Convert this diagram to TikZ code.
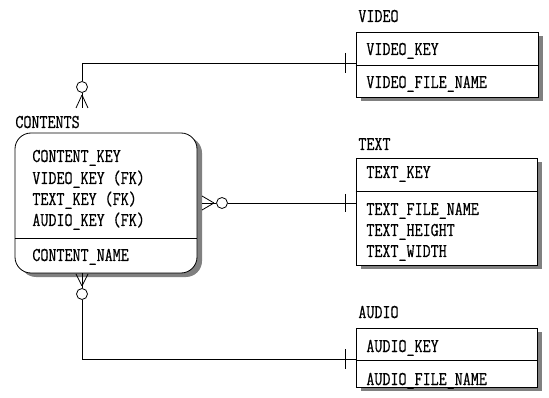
\documentclass[tikz,border=0pt]{standalone}
\usepackage{fontspec}
\setmonofont{Latin Modern Mono}[FakeStretch=0.8, FakeBold=0.6]
\usetikzlibrary{shadows}
\newcommand{\erfont}{\ttfamily\fontsize{19.5}{19.5}\selectfont}
\tikzset{
  entbox/.style={draw, fill=white, inner sep=0pt,
    drop shadow={shadow xshift=5pt, shadow yshift=-4pt, fill=black!50, opacity=1}},
  attr/.style={anchor=base west, inner sep=0pt, font=\erfont}
}

\begin{document}
\begin{tikzpicture}[x=1pt, y=-1pt, line width=0.8pt,
    rel/.style={draw, line width=0.8pt},
    card/.style={circle, draw, inner sep=0pt, minimum size=11pt}]
  \useasboundingbox (0,0) rectangle (549,398);
  % entities
  \node [entbox, rounded corners=16pt, minimum width=182pt, minimum height=140pt] (contents) at (106,203) {};
  \node [entbox, minimum width=182pt, minimum height=65pt] (video) at (447,64.5) {};
  \node [entbox, minimum width=181pt, minimum height=107pt] (text) at (446.5,211.5) {};
  \node [entbox, minimum width=181pt, minimum height=59pt] (audio) at (446.5,357.5) {};
  \draw (contents.west |- 0,238) -- (contents.east |- 0,238);
  \draw (video.west |- 0,65) -- (video.east |- 0,65);
  \draw (text.west |- 0,191) -- (text.east |- 0,191);
  \draw (audio.west |- 0,360) -- (audio.east |- 0,360);
  % titles
  \node [attr] (contentstitle) at (15,128) {CONTENTS};
  \node [attr] (videotitle) at (358,22) {VIDEO};
  \node [attr] (texttitle) at (358,150) {TEXT};
  \node [attr] (audiotitle) at (358,318) {AUDIO};
  % attributes
  \node [attr] (ckey) at (32,162) {CONTENT\_KEY};
  \node [attr] (cvkey) at (32,184) {VIDEO\_KEY (FK)};
  \node [attr] (ctkey) at (32,205) {TEXT\_KEY (FK)};
  \node [attr] (cakey) at (32,226) {AUDIO\_KEY (FK)};
  \node [attr] (cname) at (32,261) {CONTENT\_NAME};
  \node [attr] (vkey) at (366,55) {VIDEO\_KEY};
  \node [attr] (vfile) at (366,88) {VIDEO\_FILE\_NAME};
  \node [attr] (tkey) at (366,178) {TEXT\_KEY};
  \node [attr] (tfile) at (366,215) {TEXT\_FILE\_NAME};
  \node [attr] (theight) at (366,236) {TEXT\_HEIGHT};
  \node [attr] (twidth) at (366,257) {TEXT\_WIDTH};
  \node [attr] (akey) at (366,352) {AUDIO\_KEY};
  \node [attr] (afile) at (366,385) {AUDIO\_FILE\_NAME};
  % VIDEO -- CONTENTS
  \coordinate (vend) at (356,63);
  \coordinate (vbend) at (82,63);
  \node [card] (vc) at (82,87) {};
  \coordinate (vk) at (82,95);
  \draw [rel] (vend) -- (vbend) -- (vc);
  \draw [rel] (vc) -- ++(0,21);
  \draw [rel] (vk) -- ++(-6,13);
  \draw [rel] (vk) -- ++(6,13);
  \draw [rel] (vend) ++(-11,-10) -- ++(0,20);
  % TEXT -- CONTENTS
  \coordinate (tend) at (356,203);
  \node [card] (tc) at (222,203) {};
  \coordinate (tk) at (214,203);
  \draw [rel] (tend) -- (tc);
  \draw [rel] (tc) -- ++(-20,0);
  \draw [rel] (tk) -- ++(-12,-7);
  \draw [rel] (tk) -- ++(-12,7);
  \draw [rel] (tend) ++(-11,-9) -- ++(0,18);
  % AUDIO -- CONTENTS
  \coordinate (aend) at (356,359);
  \coordinate (abend) at (82,359);
  \node [card] (ac) at (82,294) {};
  \coordinate (ak) at (82,286);
  \draw [rel] (aend) -- (abend) -- (ac);
  \draw [rel] (ac) -- (contents.south -| ac);
  \draw [rel] (ak) -- ++(-6,-12);
  \draw [rel] (ak) -- ++(6,-12);
  \draw [rel] (aend) ++(-11,-10) -- ++(0,20);
\end{tikzpicture}
\end{document}
